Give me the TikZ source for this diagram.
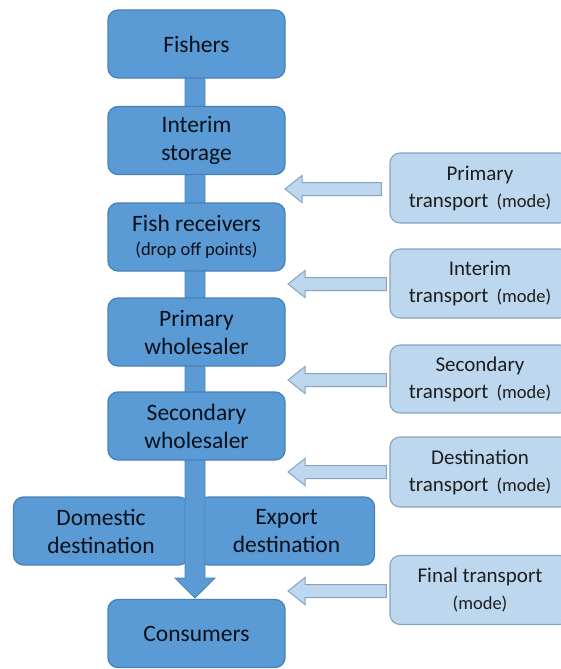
\documentclass[tikz,border=0pt]{standalone}
\usepackage{fontspec}
\setmainfont{Carlito}
\usetikzlibrary{calc}
\definecolor{mainfill}{HTML}{5B9BD5}
\definecolor{mainborder}{HTML}{4A80BA}
\definecolor{lightfill}{HTML}{BDD7EE}
\definecolor{lightborder}{HTML}{86A3C3}
\definecolor{maintext}{HTML}{0A101A}
\definecolor{lighttext}{HTML}{1E1E1E}
\newcommand{\modetxt}{\hspace*{8pt}{\fontsize{18.5}{27}\selectfont(mode)}}
\newcommand{\larrow}[2]{%
  \draw[smallarrow] let \p1=(#1), \p2=(#2) in
    (\x1,\y1+6.5) -- (\x2+17,\y1+6.5) -- (\x2+17,\y1+13.5) -- (\x2,\y1)
    -- (\x2+17,\y1-13.5) -- (\x2+17,\y1-6.5) -- (\x1,\y1-6.5) -- cycle;}
\begin{document}
\begin{tikzpicture}[x=1pt,y=-1pt,
  mainbox/.style={draw=mainborder, line width=1.3pt, fill=mainfill, rounded corners=10pt,
    minimum width=177pt, minimum height=68pt, align=center, text=maintext,
    font=\fontsize{23.5}{28}\selectfont, inner sep=0pt},
  sidebox/.style={draw=lightborder, line width=1.1pt, fill=lightfill, rounded corners=10pt,
    minimum width=180pt, minimum height=69pt, align=center, text=lighttext,
    font=\fontsize{21}{27}\selectfont, inner sep=0pt},
  smallarrow/.style={draw=lightborder, line width=1pt, fill=lightfill, line join=miter},
  bigarrow/.style={draw=mainborder, line width=0.8pt, fill=mainfill, line join=miter}]
\useasboundingbox (0,0) rectangle (560,669);
% side destinations (drawn below the main flow arrow)
\node[mainbox, minimum width=175pt] (dom) at (101,531) {Domestic\\destination};
\node[mainbox, minimum width=176pt] (exp) at (286.5,531) {Export\\destination};
% main flow arrow
\coordinate (fl) at (195,44);
\coordinate (tip) at (195,598);
\draw[bigarrow] let \p1=(fl), \p2=(tip) in
  (\x1-10,\y1) -- (\x1-10,\y2+20) -- (\x1-20,\y2+20) -- (\x2,\y2)
  -- (\x1+20,\y2+20) -- (\x1+10,\y2+20) -- (\x1+10,\y1) -- cycle;
% main column
\node[mainbox] (fish) at (196.5,44) {Fishers};
\node[mainbox] (stor) at (196.5,140.5) {Interim\\storage};
\node[mainbox] (recv) at (196.5,237) {Fish receivers\\[-4pt]{\fontsize{18.5}{22}\selectfont(drop off points)}};
\node[mainbox] (pw) at (196.5,332) {Primary\\wholesaler};
\node[mainbox] (sw) at (196.5,426) {Secondary\\wholesaler};
\node[mainbox] (cons) at (196.5,633.5) {Consumers};
% transport boxes
\node[sidebox, minimum height=70pt] (pt) at (480,188) {Primary\\transport\modetxt};
\node[sidebox] (it) at (480,283.5) {Interim\\transport\modetxt};
\node[sidebox, minimum height=68pt] (st) at (480,379) {Secondary\\transport\modetxt};
\node[sidebox, minimum height=70pt] (dt) at (480,472) {Destination\\transport\modetxt};
\node[sidebox] (ft) at (480,590) {Final transport\\{\fontsize{18.5}{27}\selectfont(mode)}};
% transport arrows
\coordinate (a1) at (285,189);
\coordinate (a2) at (288,284);
\coordinate (a3) at (288,380);
\coordinate (a4) at (288,472);
\coordinate (a5) at (288,591);
\coordinate (s1) at ($(pt.west)+(-8,1)$);
\coordinate (s2) at ($(it.west)+(-3,0.5)$);
\coordinate (s3) at ($(st.west)+(-3,1)$);
\coordinate (s4) at ($(dt.west)+(-3,0)$);
\coordinate (s5) at ($(ft.west)+(-3,1)$);
\larrow{s1}{a1}
\larrow{s2}{a2}
\larrow{s3}{a3}
\larrow{s4}{a4}
\larrow{s5}{a5}
\end{tikzpicture}
\end{document}
